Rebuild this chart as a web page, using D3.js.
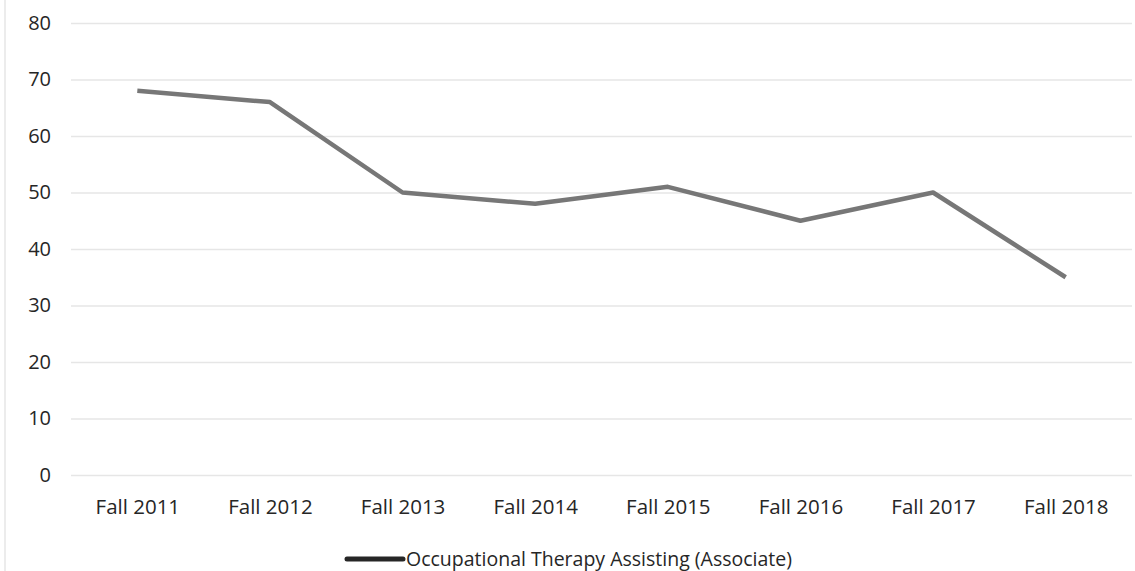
<!DOCTYPE html>
<html>
<head>
<meta charset="utf-8">
<script src="https://cdn.jsdelivr.net/npm/d3@7"></script>
<style>
  html, body { margin: 0; padding: 0; background: #fff; }
  svg text { font-family: "Open Sans", "Noto Sans", sans-serif; fill: #262626; }
</style>
</head>
<body>
<svg id="chart" width="1135" height="571"></svg>
<script>
const categories = ["Fall 2011", "Fall 2012", "Fall 2013", "Fall 2014", "Fall 2015", "Fall 2016", "Fall 2017", "Fall 2018"];
const enrollment = [68, 66, 50, 48, 51, 45, 50, 35];
const yTicks = [0, 10, 20, 30, 40, 50, 60, 70, 80];
const seriesName = "Occupational Therapy Assisting (Associate)";

const svg = d3.select("#chart");
const margin = { left: 71, right: 3, top: 23, bottom: 96 };
const W = 1135, H = 571;

const x = d3.scalePoint().domain(categories).range([margin.left, W - margin.right]).padding(0.5);
const y = d3.scaleLinear().domain([0, 80]).range([H - margin.bottom, margin.top]);

// faint frame edge on the left
svg.append("line").attr("x1", 5).attr("x2", 5).attr("y1", 0).attr("y2", H)
  .attr("stroke", "#ececec").attr("stroke-width", 2);

// horizontal gridlines
const yAxis = d3.axisLeft(y).tickValues(yTicks).tickSize(-(W - margin.left - margin.right)).tickPadding(20);
const gy = svg.append("g").attr("transform", `translate(${margin.left},0)`).call(yAxis);
gy.select(".domain").remove();
gy.selectAll(".tick line").attr("stroke", "#e6e6e6").attr("stroke-width", 1.5);
gy.selectAll(".tick text").attr("font-size", 20).attr("font-weight", 500);

// category labels
const xAxis = d3.axisBottom(x).tickSize(0).tickPadding(24);
const gx = svg.append("g").attr("transform", `translate(0,${y(0)})`).call(xAxis);
gx.select(".domain").remove();
gx.selectAll(".tick text").attr("font-size", 20.5).attr("font-weight", 500);

// series line
const line = d3.line().x((d, i) => x(categories[i])).y(d => y(d));
svg.append("path").datum(enrollment)
  .attr("d", line)
  .attr("fill", "none")
  .attr("stroke", "#777")
  .attr("stroke-width", 4.5)
  .attr("stroke-linejoin", "round");

// legend
const legend = svg.append("g").attr("transform", "translate(347,559)");
legend.append("line").attr("x1", 0).attr("x2", 56).attr("y1", 0).attr("y2", 0)
  .attr("stroke", "#262626").attr("stroke-width", 5).attr("stroke-linecap", "round");
legend.append("text").attr("x", 59).attr("y", 0).attr("dy", "0.35em")
  .attr("font-size", 19.5).attr("font-weight", 500).text(seriesName);
</script>
</body>
</html>
